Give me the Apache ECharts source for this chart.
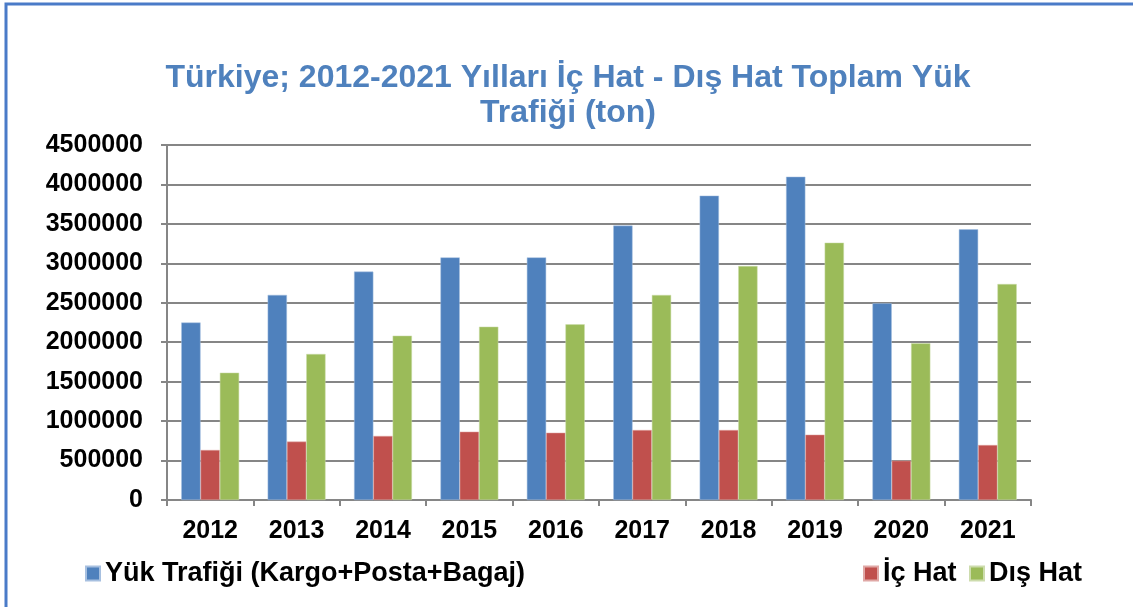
<!DOCTYPE html>
<html>
<head>
<meta charset="utf-8">
<script src="https://cdn.jsdelivr.net/npm/echarts@6/dist/echarts.min.js"></script>
<style>
  html, body { margin: 0; padding: 0; background: #fff; }
  #chart { width: 1133px; height: 607px; }
</style>
</head>
<body>
<div id="chart"></div>
<script>
// veriler
var years = ['2012', '2013', '2014', '2015', '2016', '2017', '2018', '2019', '2020', '2021'];
var yukTrafigi = [2250000, 2600000, 2895000, 3075000, 3075000, 3478000, 3858000, 4098000, 2493000, 3431000];
var icHat = [634000, 740000, 812000, 866000, 853000, 887000, 887000, 828000, 498000, 697000];
var disHat = [1614000, 1851000, 2083000, 2197000, 2227000, 2599000, 2966000, 3262000, 1986000, 2738000];
var seriesNames = ['Yük Trafiği (Kargo+Posta+Bagaj)', 'İç Hat', 'Dış Hat'];

var chart = echarts.init(document.getElementById('chart'));
var font = 'Liberation Sans, Arial, sans-serif';
var legendText = { fontSize: 27, fontWeight: 'bold', color: '#000', fontFamily: font };

var option = {
  animation: false,
  textStyle: { fontFamily: font },
  // grafik çerçevesi (sadece üst ve sol kenar görünüyor)
  graphic: [{
    type: 'rect',
    shape: { x: 6, y: 4, width: 1300, height: 700 },
    style: { fill: 'none', stroke: '#4a7bc8', lineWidth: 3 },
    z: 100
  }],
  title: {
    text: 'Türkiye; 2012-2021 Yılları İç Hat - Dış Hat Toplam Yük\nTrafiği (ton)',
    left: 563,
    textAlign: 'center',
    top: 56,
    textStyle: {
      color: '#4f81bd',
      fontSize: 32,
      fontWeight: 'bold',
      lineHeight: 35,
      fontFamily: font
    }
  },
  legend: [
    { data: [seriesNames[0]], left: 80, top: 555, icon: 'rect', itemWidth: 14, itemHeight: 14, textStyle: legendText },
    { data: [seriesNames[1]], left: 858, top: 555, icon: 'rect', itemWidth: 14, itemHeight: 14, textStyle: legendText },
    { data: [seriesNames[2]], left: 964, top: 555, icon: 'rect', itemWidth: 14, itemHeight: 14, textStyle: legendText }
  ],
  grid: { left: 167, right: 102, top: 145, bottom: 107, containLabel: false },
  xAxis: {
    type: 'category',
    data: years,
    axisLine: { lineStyle: { color: '#868686', width: 2 } },
    axisTick: { show: true, interval: 0, length: 6, lineStyle: { color: '#868686', width: 2 } },
    axisLabel: { color: '#000', fontSize: 25, fontWeight: 'bold', margin: 19, fontFamily: font }
  },
  yAxis: {
    type: 'value',
    min: 0,
    max: 4500000,
    interval: 500000,
    axisLine: { show: true, lineStyle: { color: '#868686', width: 2 } },
    axisTick: { show: true, length: 6, lineStyle: { color: '#868686', width: 2 } },
    axisLabel: {
      color: '#000', fontSize: 25, fontWeight: 'bold', margin: 24, fontFamily: font,
      formatter: function (v) { return String(v); }
    },
    splitLine: { lineStyle: { color: '#868686', width: 2 } }
  },
  series: [
    {
      name: seriesNames[0], type: 'bar', data: yukTrafigi,
      barGap: '0%', barCategoryGap: '33%',
      itemStyle: { color: '#4f81bd', borderColor: '#a7c0e0', borderWidth: 0.5 }
    },
    {
      name: seriesNames[1], type: 'bar', data: icHat,
      barGap: '0%', barCategoryGap: '33%',
      itemStyle: { color: '#c0504d', borderColor: '#e0a8a6', borderWidth: 0.5 }
    },
    {
      name: seriesNames[2], type: 'bar', data: disHat,
      barGap: '0%', barCategoryGap: '33%',
      itemStyle: { color: '#9bbb59', borderColor: '#cddcad', borderWidth: 0.5 }
    }
  ]
};
chart.setOption(option);
</script>
</body>
</html>
